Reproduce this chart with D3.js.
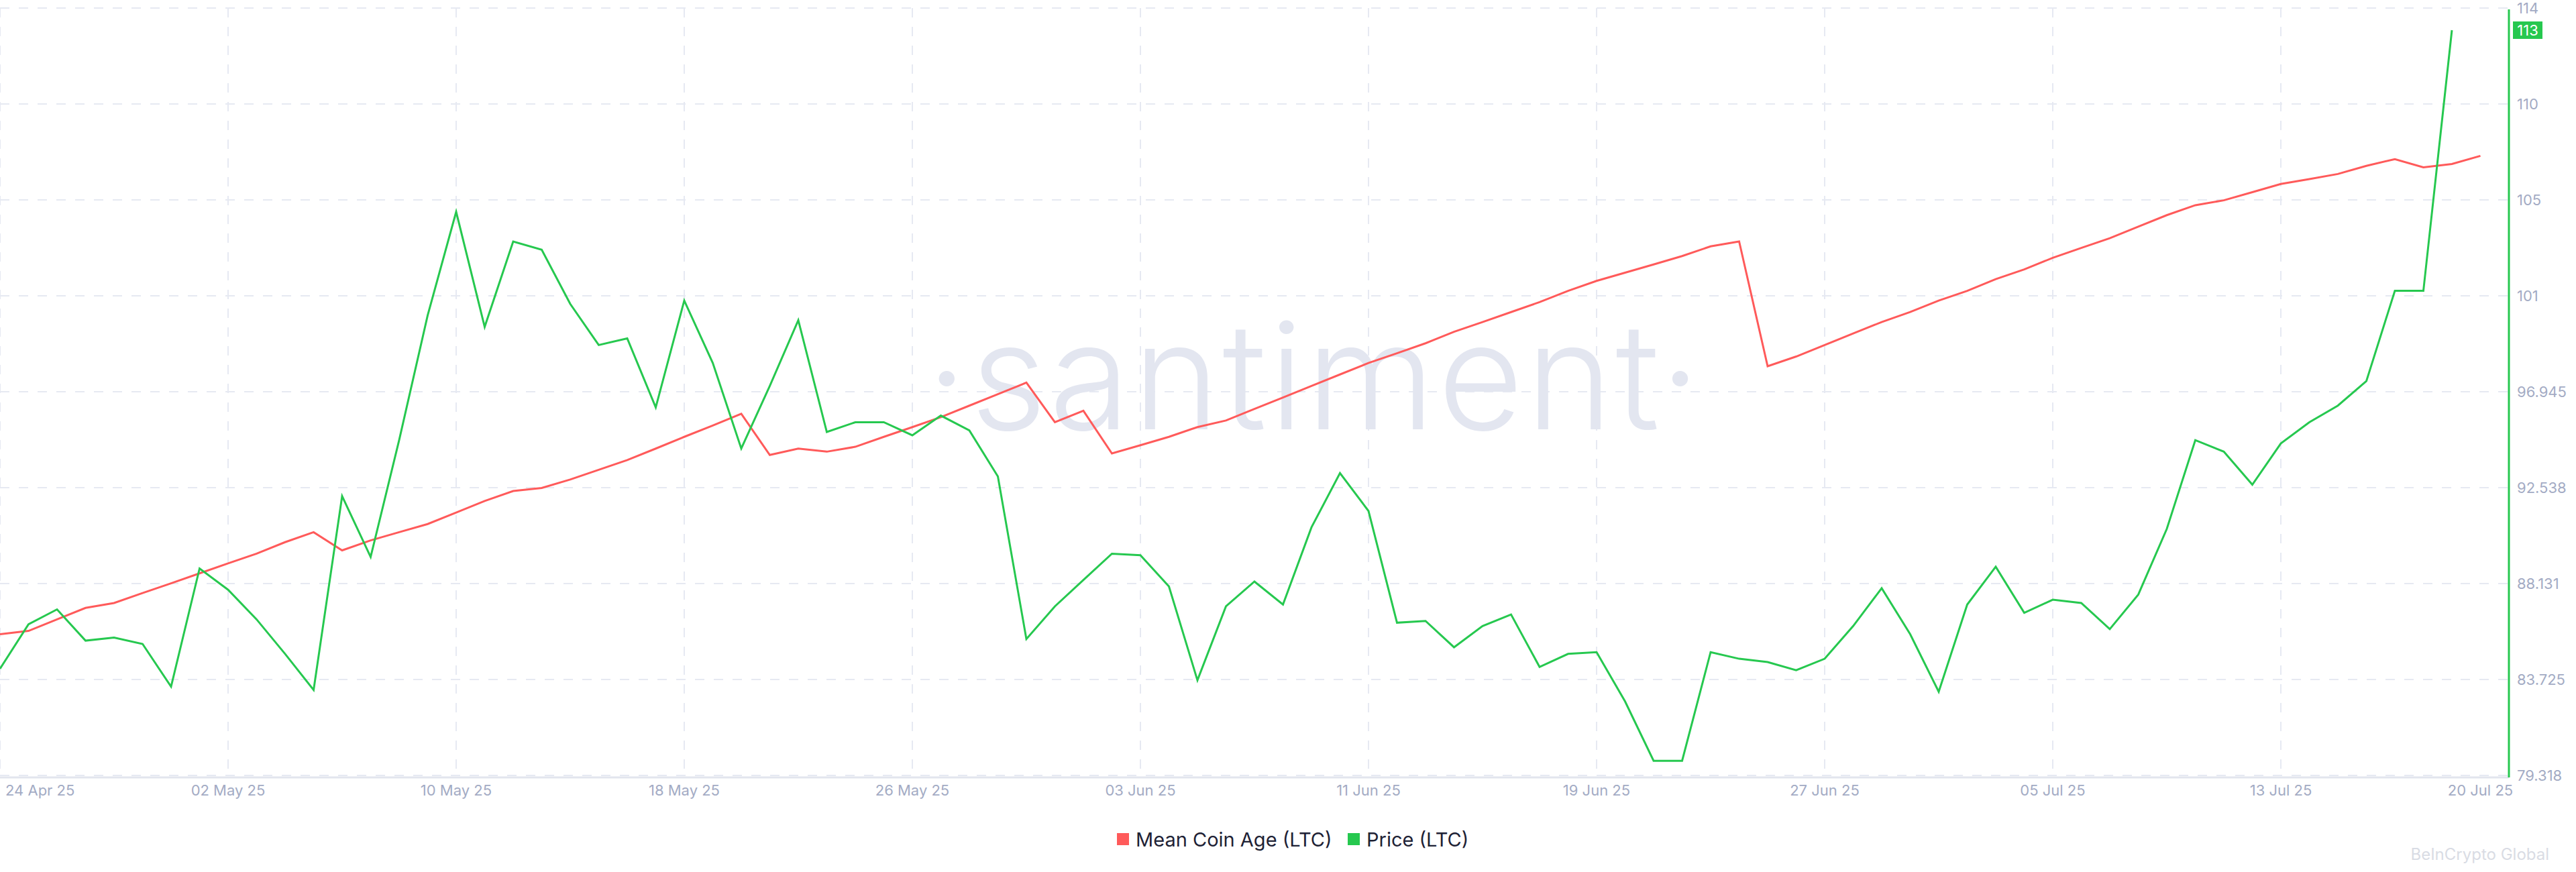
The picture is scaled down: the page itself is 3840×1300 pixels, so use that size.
<!DOCTYPE html>
<html>
<head>
<meta charset="utf-8">
<script src="https://cdn.jsdelivr.net/npm/d3@7"></script>
<style>
  body { margin: 0; background: #fff; font-family: Inter, "Noto Sans", sans-serif; }
</style>
</head>
<body>
<div id="chart"></div>
<script>
// LTC mean coin age vs price, 24 Apr - 20 Jul 2025 (daily)
var start_date = "2025-04-24";

var price = [84.14,86.15,86.82,85.41,85.55,85.26,83.33,88.67,87.71,86.37,84.81,83.18,91.94,89.19,94.47,100.11,104.79,99.59,103.45,103.08,100.63,98.77,99.07,95.95,100.78,97.96,94.09,96.92,99.89,94.84,95.28,95.28,94.69,95.58,94.91,92.83,85.48,86.96,88.15,89.34,89.27,87.86,83.62,86.96,88.08,87.04,90.53,92.98,91.27,86.22,86.30,85.11,86.07,86.59,84.22,84.81,84.89,82.66,79.98,79.98,84.89,84.59,84.44,84.07,84.59,86.07,87.78,85.70,83.10,87.04,88.75,86.67,87.26,87.11,85.93,87.49,90.46,94.47,93.95,92.46,94.32,95.28,96.03,97.14,101.22,101.22,113];

// mean coin age, drawn against the price axis range (its own axis is hidden)
var coin_age = [85.70,85.85,86.37,86.89,87.11,87.56,88.00,88.45,88.90,89.34,89.86,90.31,89.49,89.94,90.31,90.68,91.20,91.72,92.17,92.31,92.69,93.13,93.57,94.09,94.62,95.13,95.66,93.80,94.09,93.95,94.17,94.62,95.06,95.51,96.03,96.55,97.07,95.28,95.80,93.87,94.24,94.62,95.06,95.36,95.88,96.40,96.92,97.44,97.96,98.40,98.85,99.37,99.81,100.26,100.71,101.22,101.67,102.04,102.41,102.79,103.23,103.45,97.81,98.25,98.77,99.29,99.81,100.26,100.78,101.22,101.75,102.19,102.71,103.16,103.60,104.12,104.64,105.09,105.31,105.68,106.05,106.27,106.50,106.87,107.17,106.80,106.95,107.32];

var y_tick_labels = ["79.318","83.725","88.131","92.538","96.945","101","105","110","114"];
var x_tick_dates = ["2025-04-24","2025-05-02","2025-05-10","2025-05-18","2025-05-26","2025-06-03","2025-06-11","2025-06-19","2025-06-27","2025-07-05","2025-07-13","2025-07-20"];
var series_names = ["Mean Coin Age (LTC)", "Price (LTC)"];
var series_colors = ["#ff5a5a", "#26c84f"];

var W = 3840, H = 1300;
var m_left = 0, m_right = 3740, m_top = 12, m_bottom = 1156;
var y_min = 79.318, y_max = 114;

var parse = d3.utcParse("%Y-%m-%d");
var t0 = parse(start_date);
function day(i){ return d3.utcDay.offset(t0, i); }

var x = d3.scaleUtc().domain([t0, parse("2025-07-21")]).range([m_left, m_right]);
var y = d3.scaleLinear().domain([y_min, y_max]).range([m_bottom, m_top]);
var y_ticks = d3.range(9).map(function(i){ return y_min + i * (y_max - y_min) / 8; });

var svg = d3.select("#chart").append("svg").attr("width", W).attr("height", H);

// grid
svg.append("g").selectAll("line").data(y_ticks).join("line")
  .attr("x1", m_left).attr("x2", m_right)
  .attr("y1", function(d){ return y(d); }).attr("y2", function(d){ return y(d); })
  .attr("stroke", "#e6e9f2").attr("stroke-width", 2).attr("stroke-dasharray", "14,14");
svg.append("g").selectAll("line").data(x_tick_dates.slice(0, -1)).join("line")
  .attr("x1", function(d){ return x(parse(d)); }).attr("x2", function(d){ return x(parse(d)); })
  .attr("y1", m_top).attr("y2", m_bottom)
  .attr("stroke", "#e6e9f2").attr("stroke-width", 2).attr("stroke-dasharray", "14,14");

// bottom axis line
svg.append("line").attr("x1", m_left).attr("x2", m_right).attr("y1", m_bottom + 3).attr("y2", m_bottom + 3)
  .attr("stroke", "#e2e5ee").attr("stroke-width", 3);

// watermark
svg.append("text").attr("x", 1960).attr("y", 640).attr("text-anchor", "middle")
  .attr("font-size", 220).attr("font-weight", 300).attr("fill", "#e3e6f0").attr("letter-spacing", 4)
  .text("·santiment·");

// x labels
svg.append("g").selectAll("text").data(x_tick_dates).join("text")
  .attr("x", function(d, i){ return i === 0 ? 8 : x(parse(d)); })
  .attr("y", 1186)
  .attr("text-anchor", function(d, i){ return i === 0 ? "start" : "middle"; })
  .attr("font-size", 22).attr("fill", "#a3abc4")
  .text(function(d){ return d3.utcFormat("%d %b %y")(parse(d)); });

// right axis
svg.append("line").attr("x1", m_right).attr("x2", m_right).attr("y1", m_top + 2).attr("y2", m_bottom + 3)
  .attr("stroke", series_colors[1]).attr("stroke-width", 3);
svg.append("g").selectAll("text").data(y_ticks).join("text")
  .attr("x", m_right + 12).attr("y", function(d){ return y(d) + 8; })
  .attr("font-size", 22).attr("fill", "#a3abc4")
  .text(function(d, i){ return y_tick_labels[i]; });

// lines
var line = d3.line().x(function(d, i){ return x(day(i)); }).y(function(d){ return y(d); });
svg.append("path").datum(coin_age).attr("d", line).attr("fill", "none")
  .attr("stroke", series_colors[0]).attr("stroke-width", 3);
svg.append("path").datum(price).attr("d", line).attr("fill", "none")
  .attr("stroke", series_colors[1]).attr("stroke-width", 3);

// last price badge
var last = price[price.length - 1];
svg.append("rect").attr("x", m_right + 6).attr("y", y(last) - 13).attr("width", 44).attr("height", 26)
  .attr("fill", series_colors[1]);
svg.append("text").attr("x", m_right + 28).attr("y", y(last) + 8).attr("text-anchor", "middle")
  .attr("font-size", 22).attr("fill", "#fff").text(d3.format("d")(last));

// legend
var lg = svg.append("g").attr("transform", "translate(1665,1251)");
var items = lg.selectAll("g").data(series_names).join("g")
  .attr("transform", function(d, i){ return "translate(" + (i * 344) + ",0)"; });
items.append("rect").attr("x", 0).attr("y", -9).attr("width", 18).attr("height", 18)
  .attr("fill", function(d, i){ return series_colors[i]; });
items.append("text").attr("x", 28).attr("y", 11).attr("font-size", 29).attr("fill", "#1e2235")
  .text(function(d){ return d; });

// source watermark
svg.append("text").attr("x", 3800).attr("y", 1282).attr("text-anchor", "end")
  .attr("font-size", 24).attr("fill", "#d9dce4").text("BeInCrypto Global");
</script>
</body>
</html>
